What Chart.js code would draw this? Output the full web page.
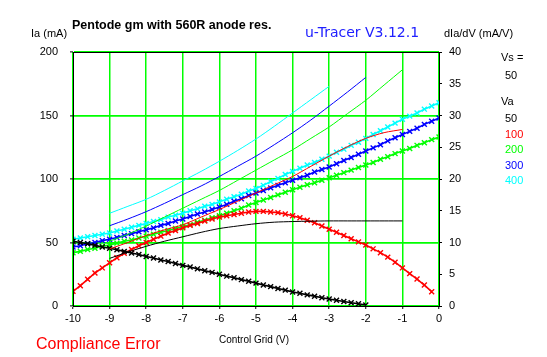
<!DOCTYPE html>
<html>
<head>
<meta charset="utf-8">
<script src="https://cdn.jsdelivr.net/npm/chart.js@4.4.1/dist/chart.umd.min.js"></script>
<style>
  html,body{margin:0;padding:0;background:#fff;}
  #wrap{position:relative;width:547px;height:357px;overflow:hidden;font-family:"Liberation Sans",Arial,sans-serif;}
  canvas{position:absolute;left:0;top:0;}
  .t{position:absolute;white-space:nowrap;line-height:1;}
</style>
</head>
<body>
<div id="wrap">
  <canvas id="c" width="547" height="357"></canvas>
  <div class="t" style="left:72px;top:19px;font-weight:bold;font-size:12.5px;">Pentode gm with 560R anode res.</div>
  <div class="t" style="left:305px;top:25px;font-size:14px;color:#2020ff;font-family:'DejaVu Sans',sans-serif;">u-Tracer V3.12.1</div>
  <div class="t" style="left:31px;top:28px;font-size:11px;">Ia (mA)</div>
  <div class="t" style="left:444px;top:28px;font-size:11px;">dIa/dV (mA/V)</div>
  <div class="t" style="left:501px;top:52px;font-size:11px;">Vs =</div>
  <div class="t" style="left:505px;top:70px;font-size:11px;">50</div>
  <div class="t" style="left:501px;top:96px;font-size:11px;">Va</div>
  <div id="leg"></div>
  <div class="t" style="left:219px;top:335px;font-size:10px;">Control Grid (V)</div>
  <div class="t" style="left:36px;top:336px;font-size:16px;color:#ff0000;">Compliance Error</div>
</div>
<script>
// Legend / series names
const anodeVolts = ['50', '100', '200', '300', '400'];
const seriesColors = ['#000000', '#ff0000', '#00ff00', '#0000ff', '#00ffff'];

// Control grid voltages for the transconductance (gm) traces, 0.2 V steps
const gmGrid = [-10,-9.8,-9.6,-9.4,-9.2,-9,-8.8,-8.6,-8.4,-8.2,-8,-7.8,-7.6,-7.4,-7.2,-7,-6.8,-6.6,-6.4,-6.2,-6,-5.8,-5.6,-5.4,-5.2,-5,-4.8,-4.6,-4.4,-4.2,-4,-3.8,-3.6,-3.4,-3.2,-3,-2.8,-2.6,-2.4,-2.2,-2,-1.8,-1.6,-1.4,-1.2,-1,-0.8,-0.6,-0.4,-0.2,0];

// gm (dIa/dV, mA/V) per anode voltage
const gm50 = [10.2,10.0,9.8,9.55,9.3,9.1,8.85,8.6,8.35,8.1,7.8,7.55,7.25,7.0,6.7,6.4,6.15,5.85,5.55,5.3,5.0,4.7,4.45,4.15,3.9,3.6,3.3,3.05,2.75,2.5,2.2,2.0,1.75,1.55,1.3,1.1,0.9,0.7,0.5,0.35,0.15,null,null,null,null,null,null,null,null,null,null];
const gm100 = [2.3,3.2,4.2,5.2,6.0,6.8,7.6,8.3,8.9,9.5,10.0,10.5,11.0,11.5,11.9,12.3,12.7,13.0,13.4,13.7,14.0,14.2,14.4,14.6,14.8,14.9,14.9,14.8,14.7,14.5,14.2,13.9,13.5,13.1,12.6,12.1,11.6,11.1,10.6,10.1,9.6,9.0,8.4,7.7,6.9,6.0,5.1,4.25,3.3,2.25,null];
const gm200 = [8.4,8.6,8.9,9.1,9.4,9.6,9.9,10.2,10.4,10.7,11.0,11.3,11.6,11.9,12.2,12.5,12.8,13.2,13.5,13.9,14.2,14.6,15.0,15.4,15.9,16.3,16.7,17.1,17.5,17.9,18.3,18.7,19.1,19.4,19.8,20.2,20.6,21.0,21.4,21.8,22.2,22.6,23.1,23.5,24.0,24.4,24.8,25.3,25.7,26.2,26.6];
const gm300 = [9.3,9.5,9.8,10.0,10.3,10.5,10.8,11.1,11.4,11.7,12.0,12.3,12.7,13.0,13.4,13.7,14.1,14.5,14.8,15.2,15.6,16.0,16.5,16.9,17.4,17.8,18.2,18.6,19.0,19.4,19.8,20.2,20.6,21.1,21.5,21.9,22.4,22.9,23.4,23.9,24.4,24.9,25.4,26.0,26.5,27.0,27.5,28.0,28.6,29.1,29.6];
const gm400 = [10.5,10.7,10.9,11.1,11.3,11.5,11.8,12.1,12.4,12.7,13.0,13.3,13.6,14.0,14.3,14.6,15.0,15.3,15.7,16.0,16.4,16.8,17.2,17.6,18.1,18.5,19.0,19.6,20.1,20.7,21.2,21.7,22.2,22.6,23.1,23.6,24.2,24.7,25.3,25.8,26.4,27.0,27.6,28.2,28.8,29.4,29.9,30.4,31.0,31.5,32.0];

// Control grid voltages for the anode current (Ia) traces, 0.5 V steps
const iaGrid = [-9,-8.5,-8,-7.5,-7,-6.5,-6,-5.5,-5,-4.5,-4,-3.5,-3,-2.5,-2,-1.5,-1];

// Ia (mA) per anode voltage
const ia50 = [37.5,42.5,47,51,54.5,58,61,63,64.8,66,66.5,66.8,67,67,67,67,67];
const ia100 = [45,50,55.5,60,64,70,76,82.5,89,95.5,102,110,118,125.5,132,136.5,139];
const ia200 = [51,56.5,63,70,77,84,91,99,107,115,123,132,141,151.5,162,174,186];
const ia300 = [63.2,68.5,74.3,80.8,87.7,94.5,102,110,118,127,136.4,146.5,157.4,168.5,180,null,null];
const ia400 = [73,78.5,84,91,98.5,106,114,122.5,131.5,141.5,152,162.5,173,null,null,null,null];

// Axis tick settings
const xMin = -10, xMax = 0, xStep = 1;
const iaMin = 0, iaMax = 200, iaStep = 50;
const gmMin = 0, gmMax = 40, gmStep = 5;

// legend text
(function(){
  const leg = document.getElementById('leg');
  anodeVolts.forEach((v,i)=>{
    const d = document.createElement('div');
    d.className = 't';
    d.style.left = '505px';
    d.style.top = (113 + i*15.5) + 'px';
    d.style.fontSize = '11px';
    d.style.color = seriesColors[i];
    d.textContent = v;
    leg.appendChild(d);
  });
})();

function pts(xs, ys){ return xs.map((x,i)=>({x:x, y:ys[i]})); }

const gmSets = [gm50, gm100, gm200, gm300, gm400];
const iaSets = [ia50, ia100, ia200, ia300, ia400];

const datasets = [];
iaSets.forEach((s,i)=>{
  datasets.push({
    label: 'Ia Va=' + anodeVolts[i],
    data: pts(iaGrid, s),
    yAxisID: 'y',
    borderColor: seriesColors[i],
    borderWidth: 1,
    pointRadius: 0,
    tension: 0.3,
    spanGaps: false,
    showLine: true
  });
});
gmSets.forEach((s,i)=>{
  datasets.push({
    label: 'gm Va=' + anodeVolts[i],
    data: pts(gmGrid, s),
    yAxisID: 'y1',
    borderColor: seriesColors[i],
    backgroundColor: seriesColors[i],
    borderWidth: 1.6,
    pointStyle: 'crossRot',
    pointRadius: 3.5,
    pointBorderWidth: 1.4,
    pointBorderColor: seriesColors[i],
    showLine: true,
    spanGaps: false
  });
});

const frame = {
  id: 'frame',
  afterDraw(chart){
    const a = chart.chartArea, ctx = chart.ctx;
    ctx.save();
    ctx.strokeStyle = '#000';
    ctx.lineWidth = 1;
    ctx.strokeRect(Math.round(a.left)+0.5, Math.round(a.top)+0.5, Math.round(a.right-a.left), Math.round(a.bottom-a.top));
    ctx.restore();
  }
};

const tickFont = {family: "'Liberation Sans', Arial, sans-serif", size: 11};

new Chart(document.getElementById('c'), {
  type: 'scatter',
  data: { datasets },
  options: {
    responsive: false,
    animation: false,
    devicePixelRatio: 1,
    layout: { padding: { top: 52, left: 0, right: 0, bottom: 0 } },
    plugins: { legend: {display:false}, tooltip: {enabled:false}, title: {display:false} },
    scales: {
      x: {
        type: 'linear', min: xMin, max: xMax,
        ticks: { stepSize: xStep, color: '#000', font: tickFont, padding: 3, maxRotation: 0 },
        grid: { color: '#00ff00', lineWidth: 1.5, tickColor: '#000', tickLength: 3, tickWidth: 1 },
        border: { color: '#000', width: 1 },
        afterFit(s){ s.height = 51; }
      },
      y: {
        type: 'linear', position: 'left', min: iaMin, max: iaMax,
        ticks: { stepSize: iaStep, color: '#000', font: tickFont, padding: 12 },
        grid: { color: '#00ff00', lineWidth: 1.8, tickColor: '#000', tickLength: 3, tickWidth: 1 },
        border: { color: '#000', width: 1 },
        afterFit(s){ s.width = 73; }
      },
      y1: {
        type: 'linear', position: 'right', min: gmMin, max: gmMax,
        ticks: { stepSize: gmStep, color: '#000', font: tickFont, padding: 7 },
        grid: { drawOnChartArea: false, tickColor: '#000', tickLength: 3, tickWidth: 1 },
        border: { color: '#000', width: 1 },
        afterFit(s){ s.width = 108; }
      }
    }
  },
  plugins: [frame]
});
</script>
</body>
</html>
